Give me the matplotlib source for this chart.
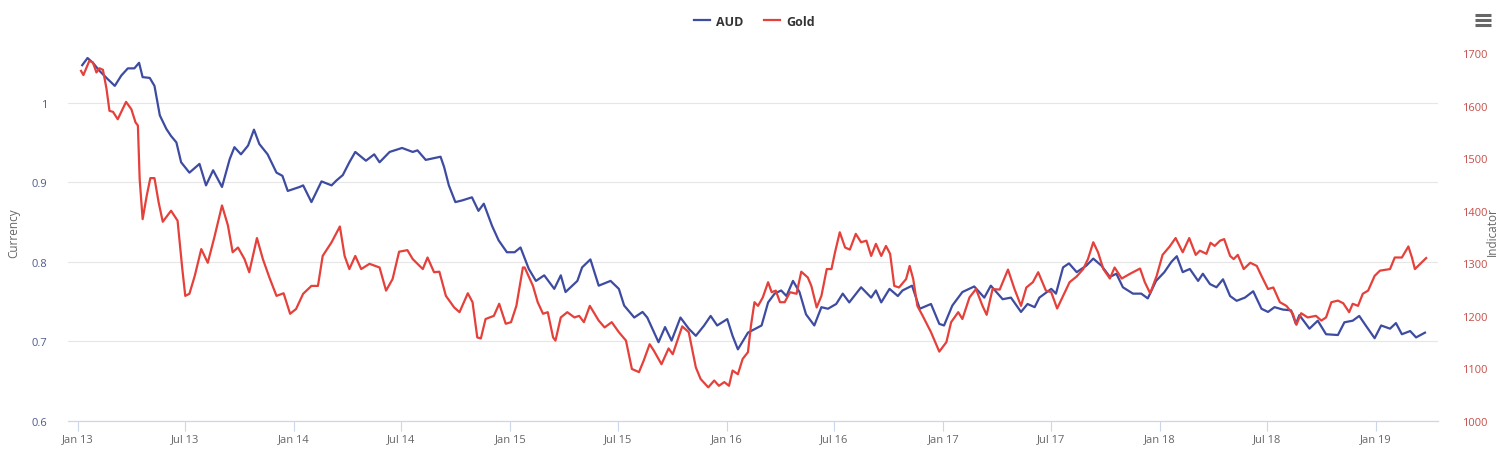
import matplotlib
matplotlib.use("Agg")
import matplotlib.pyplot as plt
import pandas as pd
from matplotlib.lines import Line2D

plt.rcParams['font.family'] = ['Open Sans', 'DejaVu Sans']

# weekly-ish readings, AUD (left axis) and gold (right axis)
aud_dates = [
    "2013-01-08", "2013-01-17", "2013-01-26", "2013-02-06", "2013-02-18", "2013-03-04", "2013-03-15",
    "2013-03-26", "2013-04-06", "2013-04-14", "2013-04-20", "2013-05-02", "2013-05-10", "2013-05-19",
    "2013-05-30", "2013-06-07", "2013-06-16", "2013-06-24", "2013-07-08", "2013-07-25", "2013-08-05",
    "2013-08-17", "2013-09-01", "2013-09-14", "2013-09-22", "2013-10-03", "2013-10-15", "2013-10-25",
    "2013-11-03", "2013-11-17", "2013-12-02", "2013-12-12", "2013-12-21", "2014-01-10", "2014-01-16",
    "2014-01-30", "2014-02-16", "2014-03-05", "2014-03-13", "2014-03-24", "2014-04-04", "2014-04-14",
    "2014-05-02", "2014-05-16", "2014-05-25", "2014-06-11", "2014-07-02", "2014-07-20", "2014-07-28",
    "2014-08-11", "2014-09-05", "2014-09-11", "2014-09-19", "2014-09-30", "2014-10-11", "2014-10-28",
    "2014-11-08", "2014-11-17", "2014-12-01", "2014-12-12", "2014-12-26", "2015-01-08", "2015-01-18",
    "2015-02-01", "2015-02-13", "2015-02-27", "2015-03-16", "2015-03-27", "2015-04-04", "2015-04-24",
    "2015-05-02", "2015-05-16", "2015-05-30", "2015-06-19", "2015-07-03", "2015-07-12", "2015-07-29",
    "2015-08-12", "2015-08-20", "2015-09-08", "2015-09-19", "2015-09-30", "2015-10-15", "2015-10-29",
    "2015-11-10", "2015-11-24", "2015-12-05", "2015-12-16", "2016-01-02", "2016-01-11", "2016-01-20",
    "2016-02-06", "2016-02-29", "2016-03-11", "2016-03-22", "2016-04-02", "2016-04-11", "2016-04-22",
    "2016-05-03", "2016-05-14", "2016-05-28", "2016-06-09", "2016-06-20", "2016-07-04", "2016-07-15",
    "2016-07-26", "2016-08-15", "2016-09-01", "2016-09-09", "2016-09-18", "2016-10-02", "2016-10-16",
    "2016-10-24", "2016-11-09", "2016-11-22", "2016-12-11", "2016-12-25", "2017-01-02", "2017-01-16",
    "2017-02-02", "2017-02-22", "2017-03-11", "2017-03-22", "2017-04-11", "2017-04-25", "2017-05-12",
    "2017-05-23", "2017-06-04", "2017-06-12", "2017-07-02", "2017-07-10", "2017-07-22", "2017-08-01",
    "2017-08-14", "2017-08-30", "2017-09-11", "2017-09-25", "2017-10-09", "2017-10-20", "2017-10-31",
    "2017-11-17", "2017-12-01", "2017-12-12", "2017-12-26", "2018-01-09", "2018-01-21", "2018-01-30",
    "2018-02-09", "2018-02-21", "2018-03-07", "2018-03-15", "2018-03-27", "2018-04-07", "2018-04-18",
    "2018-04-30", "2018-05-11", "2018-05-25", "2018-06-08", "2018-06-22", "2018-07-03", "2018-07-14",
    "2018-07-28", "2018-08-11", "2018-08-19", "2018-08-25", "2018-09-11", "2018-09-25", "2018-10-09",
    "2018-10-29", "2018-11-09", "2018-11-23", "2018-12-04", "2018-12-15", "2018-12-30", "2019-01-10",
    "2019-01-25", "2019-02-04", "2019-02-14", "2019-02-28", "2019-03-10", "2019-03-25",
]
aud_values = [
    1.047, 1.056, 1.050, 1.040, 1.031, 1.021, 1.034,
    1.043, 1.043, 1.050, 1.032, 1.031, 1.021, 0.984,
    0.967, 0.958, 0.950, 0.925, 0.912, 0.923, 0.896,
    0.915, 0.894, 0.929, 0.944, 0.935, 0.946, 0.966,
    0.948, 0.935, 0.912, 0.908, 0.889, 0.894, 0.896,
    0.875, 0.901, 0.896, 0.902, 0.909, 0.925, 0.938,
    0.927, 0.935, 0.925, 0.938, 0.943, 0.938, 0.940,
    0.928, 0.932, 0.919, 0.896, 0.875, 0.877, 0.881,
    0.864, 0.873, 0.845, 0.827, 0.812, 0.812, 0.818,
    0.791, 0.776, 0.783, 0.766, 0.783, 0.762, 0.776,
    0.793, 0.803, 0.770, 0.776, 0.766, 0.745, 0.730,
    0.737, 0.730, 0.699, 0.718, 0.701, 0.730, 0.716,
    0.707, 0.720, 0.732, 0.720, 0.728, 0.707, 0.690,
    0.711, 0.720, 0.749, 0.760, 0.764, 0.757, 0.776,
    0.762, 0.734, 0.720, 0.743, 0.741, 0.747, 0.760,
    0.749, 0.768, 0.755, 0.764, 0.749, 0.766, 0.757,
    0.764, 0.770, 0.741, 0.747, 0.722, 0.720, 0.745,
    0.762, 0.769, 0.755, 0.770, 0.753, 0.755, 0.737,
    0.747, 0.743, 0.755, 0.766, 0.760, 0.793, 0.798,
    0.787, 0.795, 0.804, 0.795, 0.781, 0.785, 0.768,
    0.760, 0.760, 0.754, 0.776, 0.787, 0.800, 0.807,
    0.787, 0.791, 0.776, 0.785, 0.772, 0.768, 0.778,
    0.757, 0.751, 0.755, 0.763, 0.741, 0.737, 0.743,
    0.740, 0.739, 0.722, 0.733, 0.716, 0.726, 0.709,
    0.708, 0.724, 0.726, 0.732, 0.720, 0.704, 0.720,
    0.716, 0.723, 0.709, 0.713, 0.705, 0.711,
]

gold_dates = [
    "2013-01-06", "2013-01-10", "2013-01-20", "2013-01-26", "2013-02-01", "2013-02-06", "2013-02-12",
    "2013-02-18", "2013-02-23", "2013-03-01", "2013-03-09", "2013-03-23", "2013-04-01", "2013-04-08",
    "2013-04-12", "2013-04-15", "2013-04-20", "2013-04-27", "2013-05-03", "2013-05-10", "2013-05-17",
    "2013-05-24", "2013-06-07", "2013-06-18", "2013-06-26", "2013-07-01", "2013-07-08", "2013-07-17",
    "2013-07-28", "2013-08-08", "2013-08-19", "2013-09-01", "2013-09-11", "2013-09-19", "2013-09-28",
    "2013-10-09", "2013-10-17", "2013-10-30", "2013-11-09", "2013-11-20", "2013-12-02", "2013-12-14",
    "2013-12-25", "2014-01-04", "2014-01-16", "2014-01-30", "2014-02-10", "2014-02-18", "2014-03-05",
    "2014-03-19", "2014-03-27", "2014-04-04", "2014-04-14", "2014-04-24", "2014-05-08", "2014-05-25",
    "2014-06-05", "2014-06-16", "2014-06-27", "2014-07-11", "2014-07-20", "2014-08-06", "2014-08-14",
    "2014-08-25", "2014-09-03", "2014-09-14", "2014-09-28", "2014-10-07", "2014-10-21", "2014-10-29",
    "2014-11-06", "2014-11-12", "2014-11-20", "2014-12-04", "2014-12-13", "2014-12-24", "2015-01-02",
    "2015-01-11", "2015-01-22", "2015-01-25", "2015-02-08", "2015-02-16", "2015-02-25", "2015-03-05",
    "2015-03-14", "2015-03-18", "2015-03-27", "2015-04-07", "2015-04-19", "2015-04-27", "2015-05-05",
    "2015-05-15", "2015-05-30", "2015-06-09", "2015-06-21", "2015-07-03", "2015-07-15", "2015-07-25",
    "2015-08-06", "2015-08-14", "2015-08-24", "2015-08-31", "2015-09-13", "2015-09-25", "2015-10-02",
    "2015-10-18", "2015-10-29", "2015-11-10", "2015-11-18", "2015-12-01", "2015-12-11", "2015-12-19",
    "2015-12-28", "2016-01-05", "2016-01-11", "2016-01-20", "2016-01-28", "2016-02-06", "2016-02-11",
    "2016-02-17", "2016-02-23", "2016-03-02", "2016-03-11", "2016-03-17", "2016-03-24", "2016-03-31",
    "2016-04-08", "2016-04-17", "2016-04-28", "2016-05-06", "2016-05-17", "2016-05-23", "2016-06-01",
    "2016-06-09", "2016-06-18", "2016-06-26", "2016-07-02", "2016-07-10", "2016-07-19", "2016-07-27",
    "2016-08-06", "2016-08-15", "2016-08-24", "2016-09-01", "2016-09-09", "2016-09-18", "2016-09-26",
    "2016-10-03", "2016-10-10", "2016-10-18", "2016-10-30", "2016-11-05", "2016-11-11", "2016-11-18",
    "2016-11-27", "2016-12-11", "2016-12-25", "2017-01-06", "2017-01-14", "2017-01-26", "2017-02-02",
    "2017-02-14", "2017-02-25", "2017-03-08", "2017-03-15", "2017-03-25", "2017-04-06", "2017-04-20",
    "2017-05-01", "2017-05-12", "2017-05-21", "2017-06-01", "2017-06-10", "2017-06-23", "2017-07-02",
    "2017-07-12", "2017-07-22", "2017-08-02", "2017-08-14", "2017-08-25", "2017-09-02", "2017-09-11",
    "2017-09-19", "2017-09-28", "2017-10-09", "2017-10-17", "2017-10-29", "2017-11-12", "2017-11-29",
    "2017-12-07", "2017-12-16", "2017-12-27", "2018-01-06", "2018-01-18", "2018-01-28", "2018-02-09",
    "2018-02-20", "2018-03-03", "2018-03-10", "2018-03-21", "2018-03-28", "2018-04-04", "2018-04-13",
    "2018-04-20", "2018-04-30", "2018-05-06", "2018-05-13", "2018-05-23", "2018-06-03", "2018-06-14",
    "2018-06-22", "2018-07-03", "2018-07-12", "2018-07-23", "2018-08-03", "2018-08-14", "2018-08-20",
    "2018-08-28", "2018-09-08", "2018-09-22", "2018-10-01", "2018-10-09", "2018-10-18", "2018-10-29",
    "2018-11-07", "2018-11-17", "2018-11-23", "2018-12-02", "2018-12-10", "2018-12-19", "2018-12-30",
    "2019-01-08", "2019-01-25", "2019-02-02", "2019-02-14", "2019-02-25", "2019-03-03", "2019-03-08",
    "2019-03-17", "2019-03-27",
]
gold_values = [
    1666, 1658, 1685, 1682, 1663, 1671, 1668,
    1632, 1590, 1588, 1574, 1607, 1593, 1568,
    1562, 1460, 1384, 1429, 1462, 1462, 1416,
    1379, 1400, 1381, 1289, 1238, 1242, 1276,
    1327, 1301, 1349, 1410, 1372, 1321, 1330,
    1308, 1283, 1348, 1308, 1273, 1238, 1243,
    1204, 1213, 1242, 1257, 1257, 1314, 1340,
    1370, 1314, 1289, 1314, 1289, 1299, 1292,
    1248, 1270, 1322, 1325, 1308, 1289, 1311,
    1283, 1284, 1238, 1216, 1207, 1243, 1226,
    1159, 1157, 1194, 1200, 1223, 1185, 1188,
    1219, 1292, 1292, 1257, 1226, 1204, 1207,
    1159, 1153, 1197, 1207, 1197, 1200, 1188,
    1219, 1191, 1178, 1188, 1169, 1153, 1099,
    1093, 1115, 1146, 1134, 1108, 1138, 1127,
    1180, 1169, 1102, 1080, 1064, 1077, 1067,
    1074, 1067, 1096, 1089, 1118, 1131, 1181,
    1226, 1219, 1235, 1264, 1245, 1248, 1226,
    1226, 1245, 1242, 1284, 1273, 1257, 1216,
    1238, 1289, 1289, 1321, 1359, 1330, 1326,
    1356, 1340, 1343, 1314, 1337, 1314, 1333,
    1318, 1257, 1254, 1270, 1295, 1270, 1219,
    1200, 1169, 1132, 1150, 1188, 1207, 1194,
    1235, 1251, 1219, 1202, 1251, 1250, 1288,
    1251, 1219, 1254, 1264, 1283, 1248, 1245,
    1214, 1238, 1264, 1275, 1289, 1308, 1340,
    1321, 1289, 1271, 1292, 1271, 1280, 1290,
    1264, 1243, 1276, 1316, 1332, 1348, 1321,
    1348, 1316, 1324, 1318, 1339, 1333, 1343,
    1346, 1314, 1308, 1316, 1289, 1301, 1295,
    1276, 1251, 1254, 1226, 1219, 1204, 1183,
    1205, 1197, 1200, 1191, 1197, 1226, 1229,
    1224, 1207, 1223, 1219, 1242, 1248, 1276,
    1286, 1289, 1311, 1311, 1332, 1311, 1289,
    1299, 1310,
]

x_ticks = pd.date_range("2013-01-01", "2019-01-01", freq="6MS")
x_labels = [d.strftime("%b %y") for d in x_ticks]
currency_ticks = [0.6, 0.7, 0.8, 0.9, 1.0]
currency_labels = ["0.6", "0.7", "0.8", "0.9", "1"]
indicator_ticks = [1000, 1100, 1200, 1300, 1400, 1500, 1600, 1700]

AUD_COLOR = "#3d4ba1"
GOLD_COLOR = "#e5403a"

W, H = 1509, 456
fig = plt.figure(figsize=(W / 100, H / 100), dpi=100)
ax = fig.add_axes([68 / W, 1 - 422 / H, (1438 - 68) / W, (422 - 54) / H])
ax2 = ax.twinx()

ax.plot(pd.to_datetime(aud_dates), aud_values, color=AUD_COLOR, lw=1.6, label="AUD")
ax2.plot(pd.to_datetime(gold_dates), gold_values, color=GOLD_COLOR, lw=1.6, label="Gold")

ax.set_xlim(pd.Timestamp("2012-12-15"), pd.Timestamp("2019-04-16"))
ax.set_ylim(0.6, 1.0623)
ax2.set_ylim(1000, 1700)

ax.set_xticks(x_ticks)
ax.set_xticklabels(x_labels)
ax.set_yticks(currency_ticks)
ax.set_yticklabels(currency_labels)
ax2.set_yticks(indicator_ticks)

ax.grid(axis="y", color="#e6e6e6", lw=0.8)
ax.set_axisbelow(True)

for a in (ax, ax2):
    for side in ("top", "left", "right"):
        a.spines[side].set_visible(False)
    a.spines["bottom"].set_color("#ccd6eb")
    a.spines["bottom"].set_linewidth(0.8)

ax.tick_params(axis="x", colors="#ccd6eb", length=7, width=0.8, labelcolor="#666666",
               labelsize=8, pad=2)
ax.tick_params(axis="y", length=0, labelcolor="#4f5a8f", labelsize=8, pad=15)
ax2.tick_params(axis="y", length=0, labelcolor="#c4504b", labelsize=8, pad=17)

# axis titles placed where the reference puts them
fig.text(14 / W, 1 - 233 / H, "Currency", color="#666666", fontsize=8.5, rotation=90,
         ha="center", va="center")
fig.text(1492 / W, 1 - 232 / H, "Indicator", color="#666666", fontsize=8.5, rotation=90,
         ha="center", va="center")

handles = [Line2D([], [], color=AUD_COLOR, lw=1.6), Line2D([], [], color=GOLD_COLOR, lw=1.6)]
fig.legend(handles, ["AUD", "Gold"], loc="center", bbox_to_anchor=(0.5, 1 - 22 / H), ncol=2,
           frameon=False, handlelength=1.3, columnspacing=1.6, handletextpad=0.5,
           prop={"weight": "bold", "size": 9}, labelcolor="#333333")

# export menu icon
for yy in (16, 21, 26):
    fig.add_artist(Line2D([1475 / W, 1491 / W], [1 - yy / H, 1 - yy / H], color="#666666",
                          lw=2.2, solid_capstyle="butt"))

fig.savefig("out.png", dpi=100, facecolor="white")
